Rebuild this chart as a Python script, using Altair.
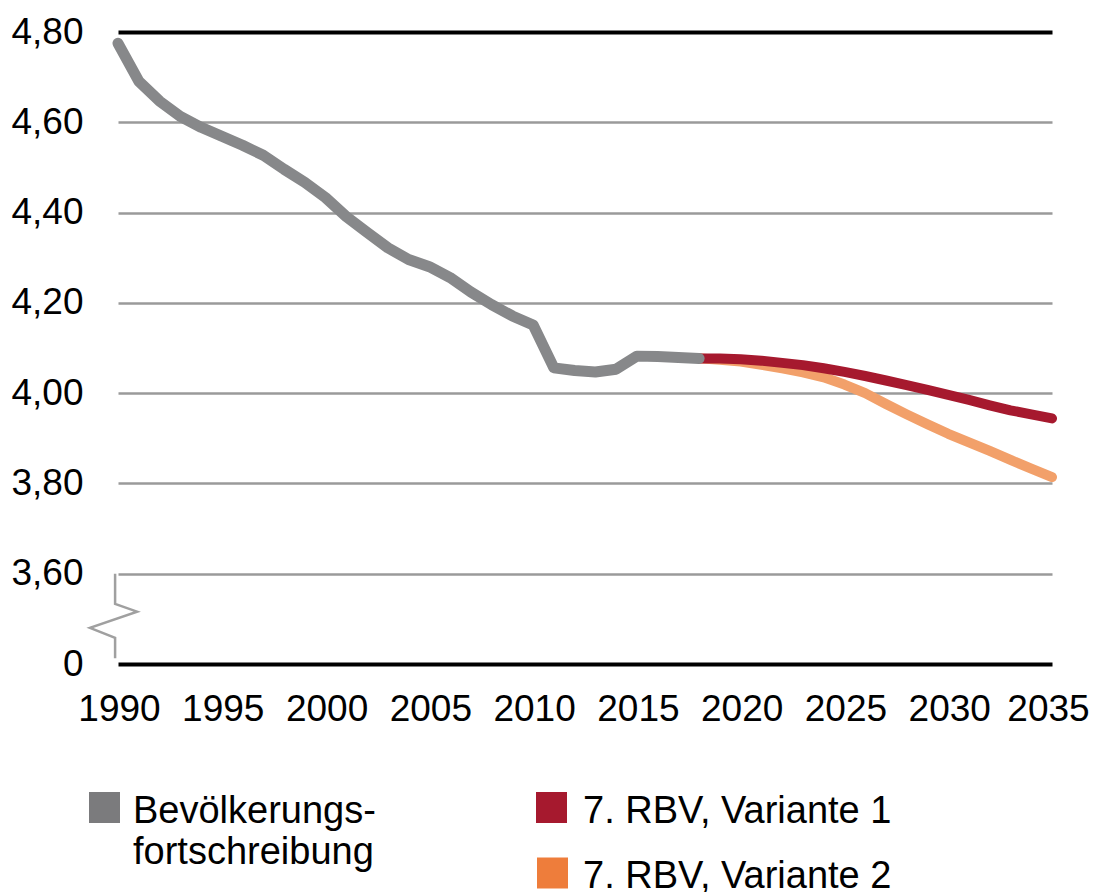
import altair as alt
import pandas as pd

FONT = "Liberation Sans"

# ---- data ----
hist_years = list(range(1990, 2019))
hist_values = [4.775, 4.691, 4.647, 4.613, 4.589, 4.569, 4.549, 4.527, 4.496, 4.467,
               4.433, 4.391, 4.356, 4.322, 4.296, 4.280, 4.256, 4.224, 4.196, 4.171,
               4.151, 4.056, 4.050, 4.047, 4.053, 4.082, 4.081, 4.079, 4.077]

proj_years = list(range(2018, 2036))
var1_values = [4.077, 4.077, 4.075, 4.072, 4.067, 4.062, 4.055, 4.047, 4.038, 4.028,
               4.018, 4.007, 3.996, 3.985, 3.973, 3.962, 3.953, 3.944]
var2_values = [4.077, 4.074, 4.070, 4.063, 4.055, 4.046, 4.035, 4.019, 4.000, 3.976,
               3.953, 3.931, 3.910, 3.891, 3.872, 3.852, 3.833, 3.814]

series_names = ["Bevölkerungsfortschreibung", "7. RBV, Variante 1", "7. RBV, Variante 2"]
line_colors = ["#87888a", "#a6192e", "#f2a06a"]
legend_colors = ["#7b7b7d", "#a6192e", "#ee7d3b"]
legend_labels = [["Bevölkerungs-", "fortschreibung"], "7. RBV, Variante 1", "7. RBV, Variante 2"]

y_ticks = [3.4, 3.6, 3.8, 4.0, 4.2, 4.4, 4.6, 4.8]
x_ticks = list(range(1990, 2036, 5))

# axis break marker (in data units)
break_x = [1989.86, 1989.86, 1990.92, 1988.65, 1989.86, 1989.86]
break_y = [3.600, 3.533, 3.516, 3.480, 3.458, 3.413]

rows = []
for yr, v in zip(hist_years, hist_values):
    rows.append({"year": yr, "value": v, "series": series_names[0]})
for yr, v in zip(proj_years, var1_values):
    rows.append({"year": yr, "value": v, "series": series_names[1]})
for yr, v in zip(proj_years, var2_values):
    rows.append({"year": yr, "value": v, "series": series_names[2]})
df = pd.DataFrame(rows)
brk = pd.DataFrame({"year": break_x, "value": break_y, "i": list(range(len(break_x)))})

xscale = alt.Scale(domain=[1990, 2035], nice=False, zero=False)
yscale = alt.Scale(domain=[3.4, 4.8], nice=False, zero=False)

x_axis = alt.Axis(values=x_ticks, format="d", title=None, grid=False, domain=False,
                  ticks=False, labelFontSize=37, labelFont=FONT, labelColor="black",
                  labelPadding=27, labelFlush=False, labelOverlap=False,
                  labelOffset={"condition": {"test": "datum.value > 2030", "value": -4},
                               "value": 1})
cond = "datum.value > 4.79 || datum.value < 3.5"
y_axis = alt.Axis(values=y_ticks, title=None, domain=False, ticks=False,
                  labelExpr="datum.value < 3.5 ? '0' : replace(format(datum.value, '.2f'), '.', ',')",
                  labelFontSize=37, labelFont=FONT, labelColor="black", labelPadding=35,
                  grid=True,
                  gridColor={"condition": {"test": cond, "value": "black"}, "value": "#9a9a9a"},
                  gridWidth={"condition": {"test": cond, "value": 4}, "value": 2.5},
                  labelFlush=False, labelOverlap=False)

color_scale = alt.Scale(domain=series_names, range=line_colors)

def series_layer(name, width):
    base = alt.Chart(df).transform_filter(alt.datum.series == name).mark_line(
        strokeWidth=width, strokeCap="round", strokeJoin="round")
    return base.encode(
        x=alt.X("year:Q", scale=xscale, axis=x_axis),
        y=alt.Y("value:Q", scale=yscale, axis=y_axis),
        color=alt.Color("series:N", scale=color_scale, legend=None),
    )

layers = [series_layer(series_names[2], 10), series_layer(series_names[1], 10),
          series_layer(series_names[0], 11)]

brk_layer = alt.Chart(brk).mark_line(color="#a0a0a0", strokeWidth=2.5, clip=False).encode(
    x=alt.X("year:Q", scale=xscale, axis=x_axis),
    y=alt.Y("value:Q", scale=yscale, axis=y_axis),
    order="i:Q",
)
layers.append(brk_layer)

# legend (manual, to reproduce the two-column layout)
one = pd.DataFrame({"k": [0]})
sq_pos = [(-13.5, 775.5), (433.5, 775.5), (434.5, 841)]
tx_pos = [(15, 791), (465, 791), (465, 856)]
for i in range(3):
    layers.append(alt.Chart(one).mark_square(size=961, color=legend_colors[i], opacity=1).encode(
        x=alt.value(sq_pos[i][0]), y=alt.value(sq_pos[i][1])))
    layers.append(alt.Chart(one).mark_text(text=legend_labels[i], align="left",
                                            baseline="alphabetic", fontSize=38, font=FONT,
                                            color="black", lineHeight=41).encode(
        x=alt.value(tx_pos[i][0]), y=alt.value(tx_pos[i][1])))

chart = alt.layer(*layers).properties(
    width=934, height=632,
    background="white",
    autosize=alt.AutoSizeParams(type="none"),
    padding={"left": 110, "top": 24, "right": 37, "bottom": 228},
).configure_view(stroke=None)

chart.save("out.html", embed_options={"renderer": "svg", "actions": False})
